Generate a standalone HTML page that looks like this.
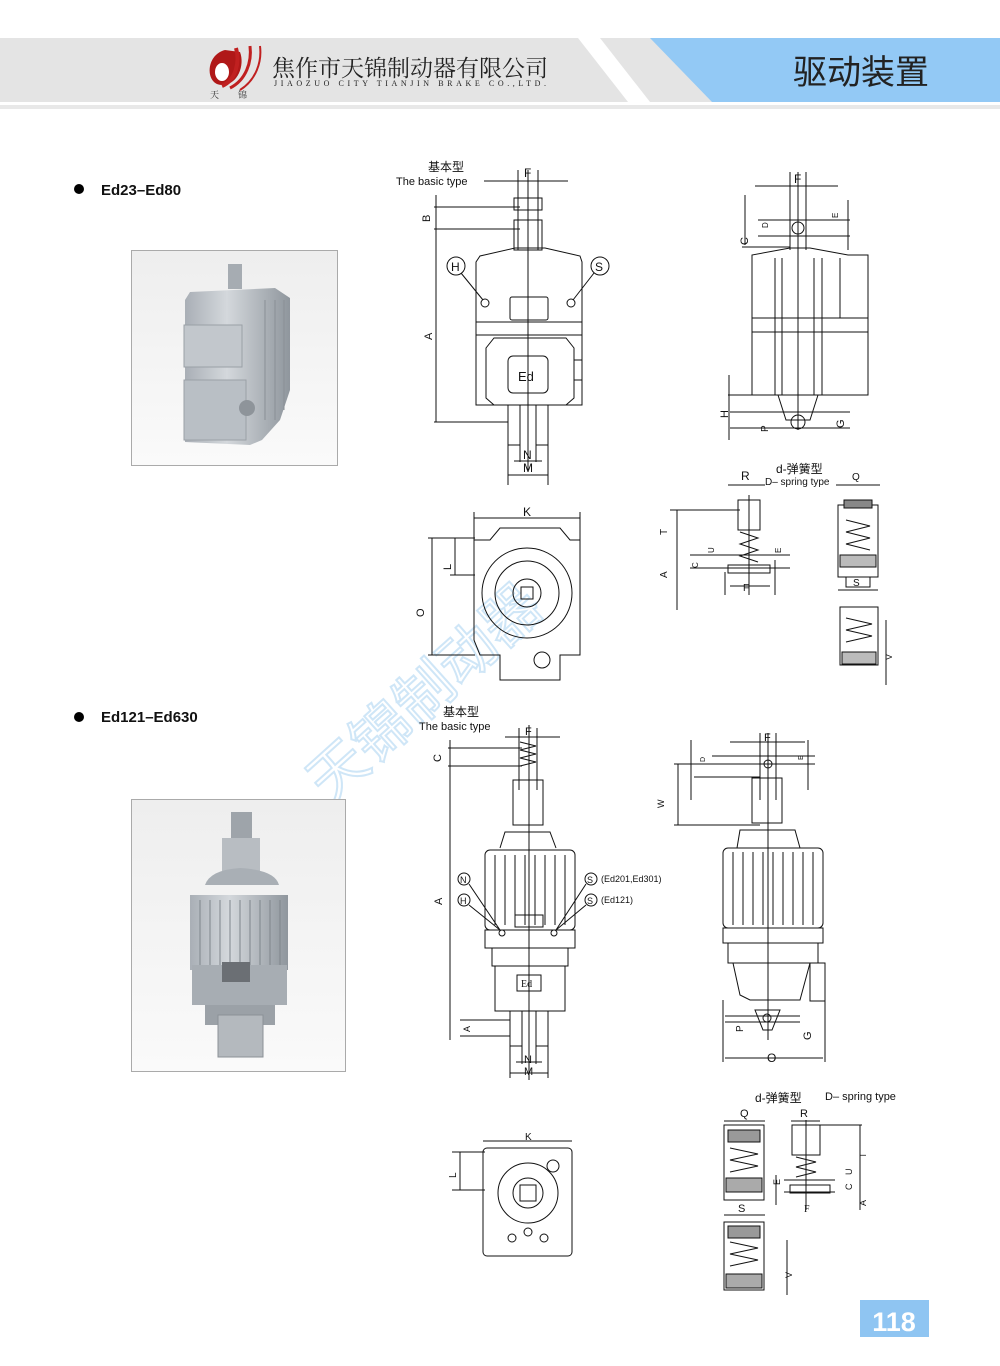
<!DOCTYPE html>
<html><head><meta charset="utf-8"><style>
body{margin:0;width:1000px;height:1366px;background:#fff;position:relative;overflow:hidden;font-family:"Liberation Sans","Noto Sans CJK SC",sans-serif}
.abs{position:absolute}
</style></head><body>
<svg class="abs" style="left:0;top:0" width="1000" height="1366" xmlns="http://www.w3.org/2000/svg" font-family="Liberation Sans, Noto Sans CJK SC, sans-serif">
<!-- header -->
<rect x="0" y="38" width="1000" height="64" fill="#e4e4e4"/>
<polygon points="578,38 600,38 650,102 628,102" fill="#fff"/>
<polygon points="650,38 1000,38 1000,102 712,102" fill="#93c9f5"/>
<rect x="0" y="105" width="1000" height="4" fill="#e8e8e8"/>
<path d="M225,50 C205,55 205,85 222,85 C238,85 245,65 240,52 Z" fill="#b01818"/>
<path d="M236,48 C240,62 236,80 222,86" stroke="#c02020" stroke-width="4" fill="none"/>
<path d="M250,46 C252,62 246,80 230,88" stroke="#c02020" stroke-width="3" fill="none"/>
<path d="M260,46 C262,62 256,80 240,90" stroke="#c02020" stroke-width="2" fill="none"/>
<ellipse cx="222" cy="72" rx="7" ry="9" fill="#fff"/>
<text x="210" y="98" font-size="9" fill="#333" font-family="Noto Serif CJK SC, serif">天</text>
<text x="238" y="98" font-size="9" fill="#333" font-family="Noto Serif CJK SC, serif">锦</text>
<text x="272" y="76" font-size="23" fill="#222" font-family="Noto Serif CJK SC, serif" textLength="276">焦作市天锦制动器有限公司</text>
<text x="274" y="86" font-size="8" fill="#222" font-family="Liberation Serif, serif" textLength="272">JIAOZUO CITY TIANJIN BRAKE CO.,LTD.</text>
<text x="793" y="84" font-size="34" fill="#222" font-family="Noto Sans CJK SC, sans-serif">驱动装置</text>

<!-- watermark -->
<text x="0" y="0" font-size="58" fill="none" stroke="#cfe6f7" stroke-width="2" font-family="Noto Sans CJK SC, sans-serif" transform="translate(330,805) rotate(-42)">天锦制动器</text>

<!-- titles -->
<circle cx="79" cy="189" r="5" fill="#000"/>
<text x="101" y="195" font-size="15" font-weight="bold" fill="#111">Ed23–Ed80</text>
<circle cx="79" cy="717" r="5" fill="#000"/>
<text x="101" y="722" font-size="15" font-weight="bold" fill="#111">Ed121–Ed630</text>

<!-- photos -->
<defs>
<linearGradient id="pg" x1="0" y1="0" x2="0" y2="1"><stop offset="0" stop-color="#eeeeee"/><stop offset="1" stop-color="#fafafa"/></linearGradient>
<linearGradient id="mg" x1="0" y1="0" x2="1" y2="0"><stop offset="0" stop-color="#a9afb6"/><stop offset=".4" stop-color="#d4d8dc"/><stop offset="1" stop-color="#8f969d"/></linearGradient>
</defs>
<rect x="131.5" y="250.5" width="206" height="215" fill="url(#pg)" stroke="#aaa"/>
<rect x="228" y="264" width="14" height="25" fill="#a6acb2"/>
<path d="M185,300 L190,292 L275,288 L290,298 L290,390 L280,420 L262,440 L250,445 L185,442 Z" fill="url(#mg)"/>
<rect x="184" y="380" width="62" height="60" fill="#b9bfc5" stroke="#9aa0a6"/>
<rect x="184" y="325" width="58" height="42" fill="#c2c7cc" stroke="#9aa0a6"/>
<circle cx="247" cy="408" r="8" fill="#8e949a"/>
<line x1="265" y1="300" x2="265" y2="420" stroke="#8a9096"/><line x1="275" y1="300" x2="275" y2="420" stroke="#8a9096"/><line x1="284" y1="300" x2="284" y2="410" stroke="#8a9096"/>

<rect x="131.5" y="799.5" width="214" height="272" fill="url(#pg)" stroke="#aaa"/>
<rect x="231" y="812" width="21" height="28" fill="#9ea4aa"/>
<rect x="222" y="838" width="38" height="35" fill="#b8bdc2"/>
<path d="M205,885 Q210,870 240,868 Q275,870 279,885 Z" fill="#a9afb5"/>
<rect x="190" y="895" width="98" height="75" fill="url(#mg)"/>
<g stroke="#7e858b"><line x1="200" y1="900" x2="200" y2="965"/><line x1="210" y1="900" x2="210" y2="965"/><line x1="220" y1="900" x2="220" y2="965"/><line x1="230" y1="900" x2="230" y2="965"/><line x1="240" y1="900" x2="240" y2="965"/><line x1="250" y1="900" x2="250" y2="965"/><line x1="260" y1="900" x2="260" y2="965"/><line x1="270" y1="900" x2="270" y2="965"/><line x1="280" y1="900" x2="280" y2="965"/></g>
<rect x="192" y="965" width="95" height="40" fill="#a7adb3"/>
<rect x="222" y="962" width="28" height="20" fill="#6b6f74"/>
<rect x="205" y="1005" width="70" height="20" fill="#9ba1a7"/>
<rect x="218" y="1015" width="45" height="42" fill="#b4b9be" stroke="#8b9197"/>

<g stroke="#111" fill="none" stroke-width="1">
<!-- ===== Drawing 1 front ===== -->
<text x="428" y="171" font-size="12" fill="#111" stroke="none">基本型</text>
<text x="396" y="185" font-size="11" fill="#111" stroke="none">The basic type</text>
<line x1="518" y1="170" x2="518" y2="250"/><line x1="538" y1="170" x2="538" y2="250"/>
<line x1="484" y1="181" x2="568" y2="181"/>
<text x="524" y="177" font-size="12" fill="#111" stroke="none">F</text>
<line x1="434" y1="207" x2="520" y2="207"/><line x1="434" y1="229" x2="520" y2="229"/>
<line x1="436" y1="195" x2="436" y2="422"/>
<text x="430" y="222" font-size="11" fill="#111" stroke="none" transform="rotate(-90 430 222)">B</text>
<text x="432" y="340" font-size="11" fill="#111" stroke="none" transform="rotate(-90 432 340)">A</text>
<line x1="434" y1="422" x2="508" y2="422"/>
<rect x="514" y="198" width="28" height="12"/><rect x="514" y="220" width="28" height="30"/>
<path d="M476,262 L480,256 L515,248 L545,248 L580,256 L582,262 L582,405 L476,405 Z"/>
<line x1="476" y1="322" x2="582" y2="322"/><line x1="476" y1="335" x2="582" y2="335"/>
<rect x="510" y="297" width="38" height="23" rx="2"/>
<path d="M486,348 L494,338 L566,338 L574,348 L574,398 L566,405 L494,405 L486,398 Z"/>
<rect x="508" y="356" width="40" height="37" rx="5"/>
<text x="518" y="381" font-size="13" fill="#111" stroke="none">Ed</text>
<line x1="528" y1="170" x2="528" y2="470"/>
<circle cx="485" cy="303" r="4"/><circle cx="571" cy="303" r="4"/>
<circle cx="456" cy="266" r="9"/><text x="451" y="271" font-size="12" fill="#111" stroke="none">H</text>
<circle cx="600" cy="266" r="9"/><text x="595" y="271" font-size="12" fill="#111" stroke="none">S</text>
<line x1="461" y1="273" x2="483" y2="300"/><line x1="594" y1="273" x2="573" y2="300"/>
<rect x="574" y="360" width="8" height="20"/>
<rect x="508" y="405" width="12" height="40"/><rect x="536" y="405" width="12" height="40"/>
<line x1="508" y1="445" x2="508" y2="485"/><line x1="548" y1="445" x2="548" y2="485"/>
<line x1="520" y1="445" x2="520" y2="462"/><line x1="536" y1="445" x2="536" y2="462"/>
<line x1="508" y1="475" x2="548" y2="475"/><line x1="514" y1="461" x2="542" y2="461"/>
<text x="523" y="459" font-size="12" fill="#111" stroke="none">N</text>
<text x="523" y="472" font-size="12" fill="#111" stroke="none">M</text>

<!-- Drawing 1 side -->
<line x1="790" y1="172" x2="790" y2="250"/><line x1="806" y1="172" x2="806" y2="250"/>
<line x1="755" y1="186" x2="838" y2="186"/>
<text x="794" y="183" font-size="12" fill="#111" stroke="none">F</text>
<circle cx="798" cy="228" r="6"/>
<line x1="758" y1="220" x2="850" y2="220"/><line x1="758" y1="236" x2="850" y2="236"/>
<line x1="745" y1="195" x2="745" y2="245"/><line x1="848" y1="200" x2="848" y2="250"/>
<line x1="742" y1="247" x2="790" y2="247"/>
<text x="748" y="245" font-size="11" fill="#111" stroke="none" transform="rotate(-90 748 245)">C</text>
<text x="838" y="218" font-size="8" fill="#111" stroke="none" transform="rotate(-90 838 218)">E</text>
<text x="768" y="228" font-size="8" fill="#111" stroke="none" transform="rotate(-90 768 228)">D</text>
<path d="M752,260 L752,255 L790,248 L810,248 L848,255 L868,255 L868,395 L752,395 Z"/>
<line x1="752" y1="318" x2="868" y2="318"/><line x1="752" y1="332" x2="868" y2="332"/>
<line x1="775" y1="258" x2="775" y2="395"/><line x1="782" y1="258" x2="782" y2="395"/><line x1="814" y1="258" x2="814" y2="395"/><line x1="822" y1="258" x2="822" y2="395"/><line x1="840" y1="258" x2="840" y2="318"/>
<line x1="798" y1="172" x2="798" y2="430"/>
<path d="M778,395 L786,420 L810,420 L818,395"/>
<circle cx="798" cy="422" r="7"/>
<line x1="728" y1="395" x2="752" y2="395"/><line x1="730" y1="412" x2="850" y2="412"/><line x1="730" y1="428" x2="850" y2="428"/>
<line x1="729" y1="375" x2="729" y2="440"/>
<text x="728" y="418" font-size="11" fill="#111" stroke="none" transform="rotate(-90 728 418)">H</text>
<text x="768" y="432" font-size="10" fill="#111" stroke="none" transform="rotate(-90 768 432)">P</text>
<text x="844" y="428" font-size="11" fill="#111" stroke="none" transform="rotate(-90 844 428)">G</text>

<!-- Drawing 1 bottom view -->
<line x1="474" y1="518" x2="580" y2="518"/>
<text x="523" y="516" font-size="12" fill="#111" stroke="none">K</text>
<line x1="474" y1="512" x2="474" y2="545"/><line x1="580" y1="512" x2="580" y2="545"/>
<path d="M474,540 L490,540 L500,528 L560,528 L570,540 L580,540 L580,655 L560,655 L560,680 L500,680 L500,655 L480,655 L474,640 Z"/>
<circle cx="527" cy="593" r="45"/><circle cx="527" cy="593" r="32"/><circle cx="527" cy="593" r="14"/>
<rect x="521" y="587" width="12" height="12"/>
<circle cx="542" cy="660" r="8"/>
<line x1="428" y1="538" x2="475" y2="538"/><line x1="428" y1="655" x2="475" y2="655"/><line x1="450" y1="575" x2="475" y2="575"/>
<line x1="432" y1="538" x2="432" y2="655"/><line x1="455" y1="538" x2="455" y2="575"/>
<text x="424" y="617" font-size="11" fill="#111" stroke="none" transform="rotate(-90 424 617)">O</text>
<text x="451" y="570" font-size="11" fill="#111" stroke="none" transform="rotate(-90 451 570)">L</text>

<!-- spring type 1 -->
<text x="776" y="473" font-size="12" fill="#111" stroke="none">d-弹簧型</text>
<text x="765" y="485" font-size="10" fill="#111" stroke="none">D– spring type</text>
<text x="741" y="480" font-size="12" fill="#111" stroke="none">R</text>
<text x="852" y="480" font-size="10" fill="#111" stroke="none">Q</text>
<line x1="728" y1="485" x2="765" y2="485"/><line x1="836" y1="485" x2="880" y2="485"/>
<rect x="738" y="500" width="22" height="30"/>
<path d="M740,532 L758,538 L740,544 L758,550 L740,556 L758,562"/>
<rect x="728" y="565" width="42" height="8"/>
<line x1="749" y1="495" x2="749" y2="595"/>
<line x1="677" y1="510" x2="677" y2="610"/><line x1="670" y1="510" x2="740" y2="510"/>
<line x1="690" y1="555" x2="790" y2="555"/><line x1="690" y1="568" x2="790" y2="568"/>
<line x1="725" y1="572" x2="725" y2="595"/><line x1="775" y1="560" x2="775" y2="595"/>
<line x1="730" y1="586" x2="770" y2="586"/>
<text x="667" y="535" font-size="10" fill="#111" stroke="none" transform="rotate(-90 667 535)">T</text>
<text x="667" y="578" font-size="10" fill="#111" stroke="none" transform="rotate(-90 667 578)">A</text>
<text x="714" y="553" font-size="8" fill="#111" stroke="none" transform="rotate(-90 714 553)">U</text>
<text x="698" y="568" font-size="8" fill="#111" stroke="none" transform="rotate(-90 698 568)">C</text>
<text x="781" y="553" font-size="8" fill="#111" stroke="none" transform="rotate(-90 781 553)">E</text>
<text x="743" y="591" font-size="10" fill="#111" stroke="none">F</text>
<rect x="838" y="505" width="40" height="72"/>
<rect x="844" y="500" width="28" height="8" fill="#888"/>
<path d="M846,520 L870,526 L846,532 L870,538 L846,544 L870,550"/>
<rect x="840" y="555" width="36" height="12" fill="#bbb"/>
<rect x="846" y="577" width="24" height="10"/>
<line x1="838" y1="590" x2="878" y2="590"/>
<text x="853" y="586" font-size="10" fill="#111" stroke="none">S</text>
<rect x="840" y="607" width="38" height="58"/>
<path d="M846,618 L872,624 L846,630 L872,636 L846,642"/>
<rect x="842" y="652" width="34" height="12" fill="#bbb"/>
<line x1="886" y1="620" x2="886" y2="685"/>
<text x="892" y="660" font-size="9" fill="#111" stroke="none" transform="rotate(-90 892 660)">V</text>

<!-- ===== Drawing 2 front ===== -->
<text x="443" y="716" font-size="12" fill="#111" stroke="none">基本型</text>
<text x="419" y="730" font-size="11" fill="#111" stroke="none">The basic type</text>
<line x1="519" y1="728" x2="519" y2="790"/><line x1="537" y1="728" x2="537" y2="790"/>
<line x1="505" y1="737" x2="560" y2="737"/>
<text x="525" y="735" font-size="11" fill="#111" stroke="none">F</text>
<path d="M520,742 L536,746 L520,750 L536,754 L520,758 L536,762 L520,766"/>
<line x1="448" y1="748" x2="522" y2="748"/><line x1="448" y1="766" x2="522" y2="766"/>
<text x="441" y="762" font-size="11" fill="#111" stroke="none" transform="rotate(-90 441 762)">C</text>
<line x1="450" y1="740" x2="450" y2="1040"/>
<text x="442" y="905" font-size="11" fill="#111" stroke="none" transform="rotate(-90 442 905)">A</text>
<rect x="513" y="780" width="30" height="45"/>
<path d="M500,848 L505,832 L550,832 L556,848"/>
<rect x="485" y="850" width="90" height="80" rx="5"/>
<g><line x1="495" y1="855" x2="495" y2="925"/><line x1="505" y1="855" x2="505" y2="925"/><line x1="515" y1="855" x2="515" y2="925"/><line x1="525" y1="855" x2="525" y2="925"/><line x1="535" y1="855" x2="535" y2="925"/><line x1="545" y1="855" x2="545" y2="925"/><line x1="555" y1="855" x2="555" y2="925"/><line x1="565" y1="855" x2="565" y2="925"/></g>
<rect x="515" y="915" width="28" height="12"/>
<rect x="485" y="930" width="90" height="18"/>
<rect x="492" y="948" width="76" height="18"/>
<rect x="495" y="966" width="70" height="45"/>
<rect x="517" y="975" width="24" height="16"/>
<text x="521" y="987" font-size="10" fill="#111" stroke="none" font-family="Liberation Serif, serif">Ed</text>
<line x1="529" y1="725" x2="529" y2="1080"/>
<circle cx="502" cy="933" r="3"/><circle cx="554" cy="933" r="3"/>
<circle cx="464" cy="879" r="6"/><text x="460" y="883" font-size="9" fill="#111" stroke="none">N</text>
<circle cx="464" cy="900" r="6"/><text x="460" y="904" font-size="9" fill="#111" stroke="none">H</text>
<circle cx="591" cy="879" r="6"/><text x="587" y="883" font-size="9" fill="#111" stroke="none">S</text>
<circle cx="591" cy="900" r="6"/><text x="587" y="904" font-size="9" fill="#111" stroke="none">S</text>
<text x="601" y="882" font-size="9" fill="#111" stroke="none">(Ed201,Ed301)</text>
<text x="601" y="903" font-size="9" fill="#111" stroke="none">(Ed121)</text>
<line x1="469" y1="884" x2="500" y2="930"/><line x1="469" y1="905" x2="500" y2="930"/>
<line x1="586" y1="884" x2="556" y2="930"/><line x1="586" y1="905" x2="556" y2="930"/>
<rect x="510" y="1011" width="12" height="35"/><rect x="536" y="1011" width="12" height="35"/>
<line x1="460" y1="1020" x2="510" y2="1020"/><line x1="460" y1="1036" x2="510" y2="1036"/>
<text x="470" y="1032" font-size="9" fill="#111" stroke="none" transform="rotate(-90 470 1032)">A</text>
<line x1="510" y1="1046" x2="510" y2="1078"/><line x1="548" y1="1046" x2="548" y2="1078"/>
<line x1="522" y1="1046" x2="522" y2="1064"/><line x1="536" y1="1046" x2="536" y2="1064"/>
<line x1="516" y1="1062" x2="542" y2="1062"/><line x1="510" y1="1073" x2="548" y2="1073"/>
<text x="524" y="1063" font-size="11" fill="#111" stroke="none">N</text>
<text x="524" y="1075" font-size="11" fill="#111" stroke="none">M</text>

<!-- Drawing 2 side -->
<line x1="760" y1="733" x2="760" y2="800"/><line x1="776" y1="733" x2="776" y2="800"/>
<line x1="730" y1="742" x2="805" y2="742"/>
<text x="764" y="741" font-size="11" fill="#111" stroke="none">F</text>
<circle cx="768" cy="764" r="4"/>
<line x1="712" y1="756" x2="815" y2="756"/><line x1="674" y1="764" x2="815" y2="764"/>
<line x1="694" y1="777" x2="760" y2="777"/><line x1="674" y1="825" x2="760" y2="825"/>
<line x1="678" y1="764" x2="678" y2="825"/><line x1="691" y1="740" x2="691" y2="800"/>
<line x1="808" y1="740" x2="808" y2="790"/>
<text x="664" y="808" font-size="9" fill="#111" stroke="none" transform="rotate(-90 664 808)">W</text>
<text x="705" y="762" font-size="7" fill="#111" stroke="none" transform="rotate(-90 705 762)">D</text>
<text x="803" y="760" font-size="7" fill="#111" stroke="none" transform="rotate(-90 803 760)">E</text>
<rect x="752" y="778" width="30" height="45"/>
<path d="M737,848 L740,830 L795,830 L800,848"/>
<rect x="723" y="848" width="100" height="80" rx="5"/>
<g><line x1="733" y1="852" x2="733" y2="925"/><line x1="743" y1="852" x2="743" y2="925"/><line x1="753" y1="852" x2="753" y2="925"/><line x1="763" y1="852" x2="763" y2="925"/><line x1="773" y1="852" x2="773" y2="925"/><line x1="783" y1="852" x2="783" y2="925"/><line x1="793" y1="852" x2="793" y2="925"/><line x1="803" y1="852" x2="803" y2="925"/><line x1="813" y1="852" x2="813" y2="925"/></g>
<rect x="723" y="928" width="100" height="15"/>
<rect x="728" y="943" width="90" height="20"/>
<path d="M733,963 L740,995 L750,1000 L800,1000 L810,963"/>
<rect x="810" y="963" width="15" height="38"/>
<line x1="768" y1="733" x2="768" y2="1040"/>
<path d="M755,1010 L780,1010 L772,1030 L763,1030 Z"/>
<circle cx="767" cy="1018" r="4"/>
<line x1="723" y1="1000" x2="723" y2="1062"/><line x1="825" y1="1000" x2="825" y2="1062"/>
<line x1="725" y1="1058" x2="823" y2="1058"/>
<text x="767" y="1062" font-size="12" fill="#111" stroke="none">O</text>
<line x1="725" y1="1016" x2="800" y2="1016"/><line x1="725" y1="1022" x2="800" y2="1022"/>
<text x="743" y="1032" font-size="10" fill="#111" stroke="none" transform="rotate(-90 743 1032)">P</text>
<text x="811" y="1040" font-size="11" fill="#111" stroke="none" transform="rotate(-90 811 1040)">G</text>

<!-- Drawing 2 bottom view -->
<line x1="483" y1="1141" x2="572" y2="1141"/>
<text x="525" y="1140" font-size="10" fill="#111" stroke="none">K</text>
<rect x="483" y="1148" width="89" height="108" rx="4"/>
<circle cx="528" cy="1193" r="30"/><circle cx="528" cy="1193" r="15"/>
<rect x="520" y="1185" width="16" height="16"/>
<circle cx="553" cy="1166" r="6"/>
<circle cx="512" cy="1238" r="4"/><circle cx="544" cy="1238" r="4"/><circle cx="528" cy="1232" r="4"/>
<line x1="452" y1="1152" x2="485" y2="1152"/><line x1="452" y1="1190" x2="485" y2="1190"/>
<line x1="460" y1="1152" x2="460" y2="1190"/>
<text x="456" y="1178" font-size="10" fill="#111" stroke="none" transform="rotate(-90 456 1178)">L</text>

<!-- spring type 2 -->
<text x="755" y="1102" font-size="12" fill="#111" stroke="none">d-弹簧型</text>
<text x="825" y="1100" font-size="11" fill="#111" stroke="none">D– spring type</text>
<text x="740" y="1117" font-size="11" fill="#111" stroke="none">Q</text>
<text x="800" y="1117" font-size="11" fill="#111" stroke="none">R</text>
<line x1="724" y1="1121" x2="765" y2="1121"/><line x1="791" y1="1121" x2="820" y2="1121"/>
<rect x="724" y="1125" width="40" height="75"/>
<rect x="728" y="1130" width="32" height="12" fill="#999"/>
<path d="M730,1148 L758,1154 L730,1160 L758,1166 L730,1172"/>
<rect x="726" y="1178" width="36" height="14" fill="#aaa"/>
<line x1="724" y1="1215" x2="765" y2="1215"/>
<text x="738" y="1212" font-size="11" fill="#111" stroke="none">S</text>
<rect x="724" y="1222" width="40" height="68"/>
<rect x="728" y="1226" width="32" height="12" fill="#999"/>
<path d="M730,1242 L758,1248 L730,1254 L758,1260 L730,1266"/>
<rect x="726" y="1274" width="36" height="14" fill="#aaa"/>
<line x1="787" y1="1240" x2="787" y2="1295"/>
<text x="792" y="1278" font-size="9" fill="#111" stroke="none" transform="rotate(-90 792 1278)">V</text>
<rect x="792" y="1125" width="28" height="30"/>
<path d="M796,1157 L816,1162 L796,1167 L816,1172 L796,1177"/>
<rect x="790" y="1185" width="40" height="8"/>
<line x1="806" y1="1120" x2="806" y2="1210"/>
<line x1="776" y1="1175" x2="776" y2="1205"/><line x1="784" y1="1180" x2="835" y2="1180"/><line x1="784" y1="1192" x2="835" y2="1192"/>
<line x1="860" y1="1125" x2="860" y2="1210"/><line x1="820" y1="1125" x2="862" y2="1125"/>
<text x="780" y="1185" font-size="9" fill="#111" stroke="none" transform="rotate(-90 780 1185)">E</text>
<text x="852" y="1175" font-size="9" fill="#111" stroke="none" transform="rotate(-90 852 1175)">U</text>
<text x="852" y="1190" font-size="9" fill="#111" stroke="none" transform="rotate(-90 852 1190)">C</text>
<text x="866" y="1158" font-size="9" fill="#111" stroke="none" transform="rotate(-90 866 1158)">T</text>
<text x="866" y="1206" font-size="9" fill="#111" stroke="none" transform="rotate(-90 866 1206)">A</text>
<text x="804" y="1212" font-size="10" fill="#111" stroke="none" font-family="Liberation Serif, serif">F</text>
</g>

<!-- page number -->
<rect x="860" y="1300" width="69" height="37" fill="#8fc5f2"/>
<text x="894" y="1331" font-size="27" font-weight="bold" fill="#fff" text-anchor="middle">118</text>
</svg>
</body></html>
